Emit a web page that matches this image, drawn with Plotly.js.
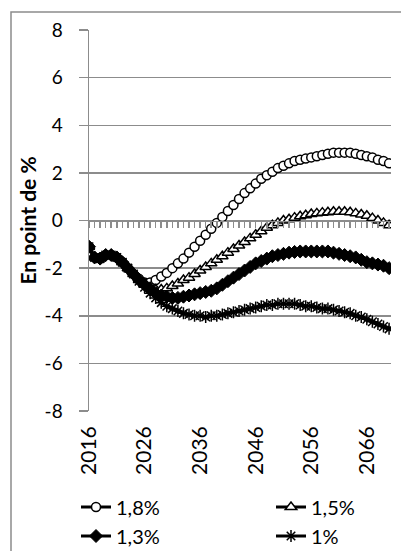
<!DOCTYPE html>
<html>
<head>
<meta charset="utf-8">
<script src="https://cdn.plot.ly/plotly-3.0.1.min.js"></script>
<style>
html,body{margin:0;padding:0;background:#fff;}
#chart{width:401px;height:551px;}
</style>
</head>
<body>
<div id="chart"></div>
<script>
const years = [];
for (let y = 2016; y <= 2070; y++) years.push(y);

const seriesNames = ["1,8%", "1,5%", "1,3%", "1%"];

const s18 = [-1.1,-1.55,-1.6,-1.45,-1.45,-1.55,-1.75,-2.0,-2.25,-2.45,
  -2.6,-2.6,-2.5,-2.35,-2.2,-2.0,-1.8,-1.6,-1.35,-1.1,
  -0.85,-0.6,-0.35,-0.1,0.15,0.4,0.65,0.9,1.15,1.35,
  1.55,1.75,1.9,2.05,2.2,2.3,2.4,2.5,2.55,2.6,
  2.65,2.7,2.75,2.8,2.85,2.85,2.85,2.85,2.8,2.75,
  2.7,2.65,2.55,2.5,2.4];

const s15 = [-1.1,-1.55,-1.6,-1.45,-1.45,-1.55,-1.75,-2.0,-2.25,-2.5,
  -2.65,-2.8,-2.9,-2.9,-2.85,-2.75,-2.65,-2.5,-2.4,-2.25,
  -2.1,-1.95,-1.8,-1.65,-1.5,-1.35,-1.2,-1.05,-0.9,-0.75,
  -0.6,-0.45,-0.3,-0.2,-0.1,0.0,0.05,0.12,0.18,0.22,
  0.27,0.3,0.33,0.35,0.37,0.37,0.37,0.35,0.3,0.25,
  0.2,0.1,0.0,-0.1,-0.2];

const s13 = [-1.1,-1.55,-1.6,-1.45,-1.45,-1.55,-1.75,-2.0,-2.25,-2.5,
  -2.7,-2.9,-3.05,-3.15,-3.2,-3.25,-3.25,-3.2,-3.15,-3.1,
  -3.05,-3.0,-2.95,-2.85,-2.7,-2.55,-2.4,-2.25,-2.1,-1.95,
  -1.8,-1.7,-1.6,-1.5,-1.45,-1.4,-1.35,-1.32,-1.3,-1.3,
  -1.3,-1.3,-1.3,-1.3,-1.35,-1.4,-1.45,-1.5,-1.55,-1.65,
  -1.75,-1.8,-1.85,-1.9,-2.0];

const s10 = [-1.1,-1.55,-1.6,-1.45,-1.45,-1.55,-1.75,-2.0,-2.25,-2.55,
  -2.8,-3.05,-3.25,-3.45,-3.6,-3.7,-3.8,-3.9,-3.95,-4.0,
  -4.0,-4.05,-4.0,-4.0,-3.95,-3.9,-3.85,-3.8,-3.75,-3.7,
  -3.65,-3.6,-3.55,-3.55,-3.5,-3.5,-3.5,-3.5,-3.55,-3.6,
  -3.6,-3.65,-3.7,-3.7,-3.75,-3.8,-3.85,-3.9,-4.0,-4.05,
  -4.15,-4.25,-4.35,-4.45,-4.55];

const xTickVals = [2016, 2026, 2036, 2046, 2056, 2066];
const xTickText = ["2016", "2026", "2036", "2046", "2056", "2066"];
const yTickVals = [-8, -6, -4, -2, 0, 2, 4, 6, 8];
const yTickText = ["-8", "-6", "-4", "-2", "0", "2", "4", "6", "8"];

const FONT = "Lato, 'Open Sans', sans-serif";
const GRID = "#8c8c8c";

function tr(name, y, marker, legendId) {
  return {
    type: "scatter", mode: "lines+markers", name: name,
    x: years, y: y,
    line: {color: "#000", width: 3},
    marker: marker,
    legend: legendId
  };
}

const data = [
  tr(seriesNames[0], s18, {symbol: "circle", size: 9, color: "#fff", line: {color: "#000", width: 1.5}}, "legend"),
  tr(seriesNames[1], s15, {symbol: "triangle-up", size: 10, color: "#fff", line: {color: "#000", width: 1.5}}, "legend"),
  tr(seriesNames[2], s13, {symbol: "diamond", size: 10, color: "#000", line: {color: "#000", width: 1}}, "legend2"),
  tr(seriesNames[3], s10, {symbol: "asterisk-open", size: 10, color: "#000", line: {color: "#000", width: 1.5}}, "legend2"),
  {type: "scatter", mode: "lines", x: [], y: [], xaxis: "x2", yaxis: "y", showlegend: false, hoverinfo: "skip"}
];

const legendCommon = {
  orientation: "h",
  xanchor: "left",
  yanchor: "middle",
  entrywidth: 150, entrywidthmode: "pixels",
  font: {family: FONT, size: 20, color: "#000"},
  bgcolor: "rgba(0,0,0,0)",
  borderwidth: 0
};

const layout = {
  width: 401, height: 551,
  margin: {l: 89, r: 10, t: 30, b: 140, autoexpand: false},
  paper_bgcolor: "#fff", plot_bgcolor: "#fff",
  font: {family: FONT, color: "#000", size: 18},
  showlegend: true,
  xaxis: {
    range: [2016, 2070.35],
    tickvals: xTickVals, ticktext: xTickText,
    tickangle: -90,
    ticks: "", showgrid: false, zeroline: false, showline: false,
    tickfont: {family: FONT, size: 21, color: "#000"},
    ticklabelstandoff: 10
  },
  xaxis2: {
    overlaying: "x", anchor: "free", position: 0.5, side: "bottom",
    range: [2016, 2070.35],
    tick0: 2016, dtick: 1,
    ticks: "outside", ticklen: 6, tickwidth: 1.5, tickcolor: GRID,
    showticklabels: false, showgrid: false, zeroline: false,
    showline: true, linecolor: GRID, linewidth: 1.5
  },
  yaxis: {
    range: [-8, 8],
    tickvals: yTickVals, ticktext: yTickText,
    showgrid: true, gridcolor: GRID, gridwidth: 1.5,
    zeroline: false,
    showline: true, linecolor: GRID, linewidth: 1.5,
    ticks: "outside", ticklen: 9, tickwidth: 1.5, tickcolor: GRID,
    tickfont: {family: FONT, size: 19, color: "#000"},
    ticklabelstandoff: 12,
    title: {text: "En point de %", font: {family: FONT, size: 21, color: "#000", weight: "bold"}, standoff: 2}
  },
  legend: Object.assign({}, legendCommon, {x: (76 - 89) / 302, y: (411 - 507) / 381}),
  legend2: Object.assign({}, legendCommon, {x: (76 - 89) / 302, y: (411 - 536) / 381}),
  shapes: [{
    type: "rect", xref: "paper", yref: "paper",
    x0: (11 - 89) / 302, x1: (410 - 89) / 302,
    y0: (411 - 560) / 381, y1: (411 - 12) / 381,
    line: {color: GRID, width: 1.5}, fillcolor: "rgba(0,0,0,0)",
    layer: "below"
  }]
};

Plotly.newPlot("chart", data, layout, {displayModeBar: false, staticPlot: true});
</script>
</body>
</html>
